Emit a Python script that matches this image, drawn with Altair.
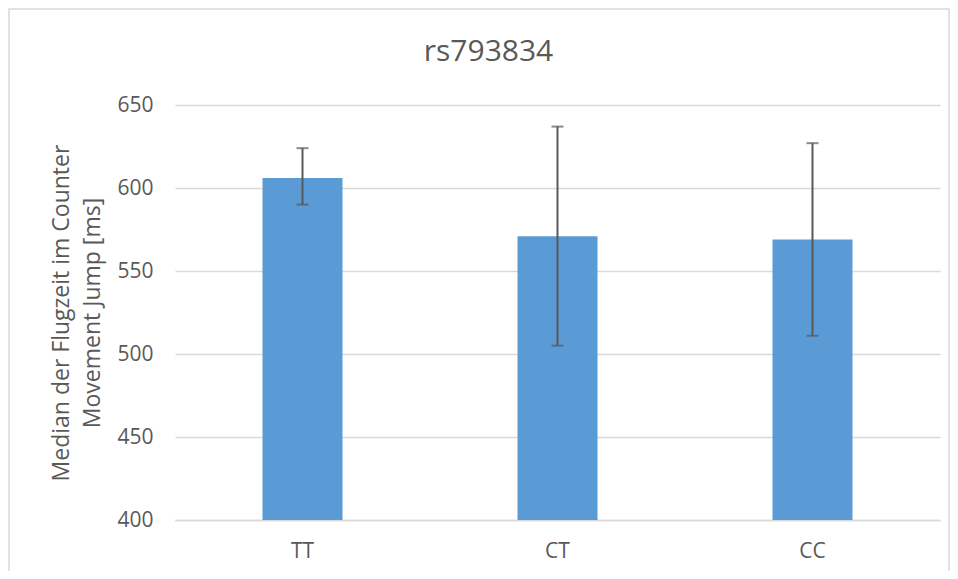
import altair as alt
import pandas as pd

genotypes = ["TT", "CT", "CC"]
medians = [606, 571, 569]
err_low = [590, 505, 511]
err_high = [624, 637, 627]
y_ticks = [400, 450, 500, 550, 600, 650]

df = pd.DataFrame({"g": genotypes, "m": medians, "lo": err_low, "hi": err_high})

FONT = "Open Sans"
TXT = "#595959"

x = alt.X("g:N", sort=genotypes, title=None,
          scale=alt.Scale(paddingInner=0, paddingOuter=0),
          axis=alt.Axis(labelAngle=0, labelFontSize=21, labelColor=TXT, labelFont=FONT,
                        labelPadding=20, ticks=False, domainColor="#d9d9d9", domainWidth=1.5,
                        grid=False))
yscale = alt.Scale(domain=[400, 650], nice=False, zero=False)
yaxis = alt.Axis(values=y_ticks, labelFontSize=21, labelColor=TXT, labelFont=FONT,
                 labelPadding=22, ticks=False, domain=False, gridColor="#d9d9d9", gridWidth=1.5,
                 title=["Median der Flugzeit im Counter", "Movement Jump [ms]"],
                 titleFontSize=23, titleFont=FONT, titleColor=TXT, titleFontWeight="normal",
                 titleLineHeight=31, titlePadding=12)

base = alt.Chart(df)
bars = base.mark_bar(size=80, color="#5b9bd5", clip=True).encode(
    x=x, y=alt.Y("m:Q", scale=yscale, axis=yaxis))
rule = base.mark_rule(color=TXT, strokeWidth=2).encode(
    x=x, y=alt.Y("lo:Q", scale=yscale, axis=yaxis), y2="hi:Q")
cap_lo = base.mark_tick(color=TXT, size=12, thickness=2).encode(
    x=x, y=alt.Y("lo:Q", scale=yscale, axis=yaxis))
cap_hi = base.mark_tick(color=TXT, size=12, thickness=2).encode(
    x=x, y=alt.Y("hi:Q", scale=yscale, axis=yaxis))

frame = alt.Chart(pd.DataFrame({"a": [0]})).mark_rect(
    filled=False, stroke="#d9d9d9", strokeWidth=1.5).encode(
    x=alt.value(-166), x2=alt.value(774), y=alt.value(-96), y2=alt.value(520))

chart = alt.layer(frame, bars, rule, cap_lo, cap_hi).properties(
    width=765, height=415,
    title=alt.TitleParams("rs793834", fontSize=30, font=FONT, color=TXT,
                          fontWeight="normal", anchor="middle", frame="group",
                          dx=-69, offset=-59),
    autosize=alt.AutoSizeParams(type="none"),
    padding={"left": 167, "top": 97, "right": 10, "bottom": 51},
).configure_view(stroke=None)

chart.save("out.html", embed_options={"renderer": "svg", "actions": False})
